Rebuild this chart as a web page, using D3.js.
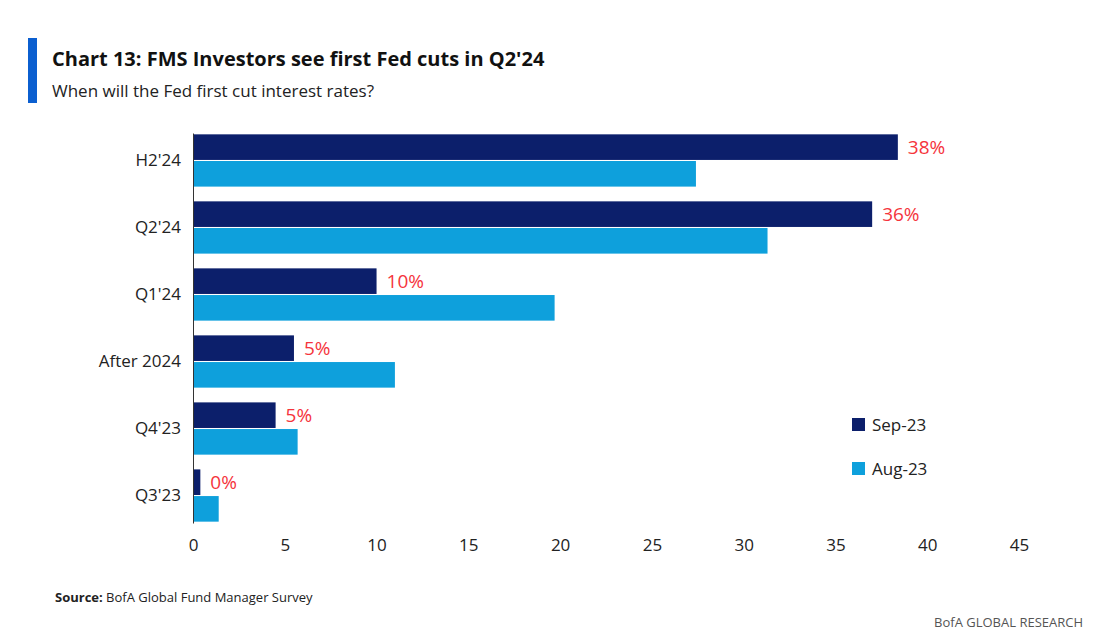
<!DOCTYPE html>
<html><head><meta charset="utf-8">
<script src="https://cdn.jsdelivr.net/npm/d3@7"></script>
<style>body{margin:0;background:#fff;font-family:"Open Sans","Liberation Sans",sans-serif;}</style>
</head><body><svg id="c" width="1100" height="640"></svg>
<script>
const categories = ["H2'24","Q2'24","Q1'24","After 2024","Q4'23","Q3'23"];
const sep23 = [38.4,37.0,10.0,5.5,4.5,0.4];
const aug23 = [27.4,31.3,19.7,11.0,5.7,1.4];
const labels = ["38%","36%","10%","5%","5%","0%"];
const ticks = [0,5,10,15,20,25,30,35,40,45];
const seriesNames = ["Sep-23","Aug-23"];
const colors = ["#0c1f6b","#0ea0dc"];

const svg = d3.select("#c");
const x = d3.scaleLinear().domain([0,45]).range([193,1019]);
const y = d3.scaleBand().domain(categories).range([133,523]).paddingInner(0.22).paddingOuter(0.02);
const sub = d3.scaleBand().domain([0,1]).range([0,y.bandwidth()]).paddingInner(0.04);

svg.append("rect").attr("x",28).attr("y",38).attr("width",9).attr("height",65).attr("fill","#0b5fd0");
svg.append("text").attr("x",52).attr("y",66).attr("font-size",20).attr("font-weight","bold").attr("fill","#111")
  .text("Chart 13: FMS Investors see first Fed cuts in Q2'24");
svg.append("text").attr("x",52).attr("y",97).attr("font-size",17).attr("fill","#222")
  .text("When will the Fed first cut interest rates?");

const g = svg.append("g");
categories.forEach((c,i)=>{
  [sep23[i],aug23[i]].forEach((v,j)=>{
    g.append("rect").attr("x",x(0)).attr("y",y(c)+sub(j)).attr("width",x(v)-x(0))
      .attr("height",sub.bandwidth()).attr("fill",colors[j]);
  });
  g.append("text").attr("x",x(sep23[i])+10).attr("y",y(c)+sub(0)+sub.bandwidth()/2+7)
    .attr("font-size",19).attr("fill","#f5343c").text(labels[i]);
});

svg.append("g").attr("transform",`translate(${x(0)},0)`)
  .call(d3.axisLeft(y).tickSize(0).tickPadding(12))
  .call(a=>{a.select(".domain").attr("stroke","#333");a.selectAll("text").attr("font-size",17).attr("fill","#222").style("font-family","Open Sans, sans-serif");});

svg.append("g").attr("transform","translate(0,523)")
  .call(d3.axisBottom(x).tickValues(ticks).tickSize(0).tickPadding(16))
  .call(a=>{a.select(".domain").remove();a.selectAll("text").attr("font-size",17).attr("fill","#222").style("font-family","Open Sans, sans-serif");});

seriesNames.forEach((n,j)=>{
  svg.append("rect").attr("x",852).attr("y",418+j*44).attr("width",13).attr("height",13).attr("fill",colors[j]);
  svg.append("text").attr("x",872).attr("y",431+j*44).attr("font-size",17).attr("fill","#222").text(n);
});

const s = svg.append("text").attr("x",55).attr("y",602).attr("font-size",13).attr("fill","#222");
s.append("tspan").attr("font-weight","bold").text("Source:");
s.append("tspan").text("  BofA Global Fund Manager Survey");
svg.append("text").attr("x",1083).attr("y",627).attr("text-anchor","end").attr("font-size",13).attr("fill","#555")
  .text("BofA GLOBAL RESEARCH");
</script></body></html>
